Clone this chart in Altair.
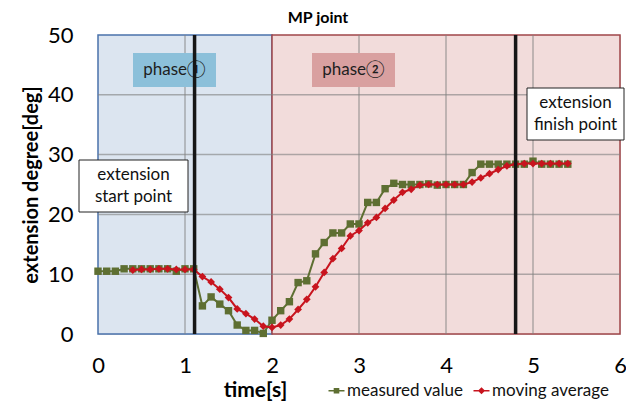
import altair as alt
import pandas as pd

# ---------------- data ----------------
time_measured = [0.0, 0.1, 0.2, 0.3, 0.4, 0.5, 0.6, 0.7, 0.8, 0.9,
                 1.0, 1.1, 1.2, 1.3, 1.4, 1.5, 1.6, 1.7, 1.8, 1.9,
                 2.0, 2.1, 2.2, 2.3, 2.4, 2.5, 2.6, 2.7, 2.8, 2.9,
                 3.0, 3.1, 3.2, 3.3, 3.4, 3.5, 3.6, 3.7, 3.8, 3.9,
                 4.0, 4.1, 4.2, 4.3, 4.4, 4.5, 4.6, 4.7, 4.8, 4.9,
                 5.0, 5.1, 5.2, 5.3, 5.4]
measured_values = [10.5, 10.5, 10.5, 10.9, 10.9, 10.9, 10.9, 10.9, 10.9, 10.5,
                   10.9, 10.9, 4.7, 6.2, 5.0, 3.9, 1.5, 0.6, 0.6, 0.1,
                   2.3, 3.9, 5.4, 8.6, 8.9, 13.4, 15.3, 16.9, 16.9, 18.4,
                   18.4, 22.0, 22.0, 24.3, 25.2, 25.0, 25.0, 25.0, 25.1, 24.9,
                   25.0, 25.0, 25.0, 27.0, 28.4, 28.4, 28.4, 28.4, 28.4, 28.4,
                   28.9, 28.4, 28.4, 28.4, 28.4]

time_average = [0.4, 0.5, 0.6, 0.7, 0.8, 0.9,
                1.0, 1.1, 1.2, 1.3, 1.4, 1.5, 1.6, 1.7, 1.8, 1.9,
                2.0, 2.1, 2.2, 2.3, 2.4, 2.5, 2.6, 2.7, 2.8, 2.9,
                3.0, 3.1, 3.2, 3.3, 3.4, 3.5, 3.6, 3.7, 3.8, 3.9,
                4.0, 4.1, 4.2, 4.3, 4.4, 4.5, 4.6, 4.7, 4.8, 4.9,
                5.0, 5.1, 5.2, 5.3, 5.4]
average_values = [10.7, 10.8, 10.8, 10.9, 10.9, 10.8,
                  10.8, 10.8, 9.6, 8.7, 7.5, 6.1, 4.2, 3.4, 2.5, 1.3,
                  1.1, 1.5, 2.5, 4.1, 5.8, 7.9, 10.3, 12.6, 14.3, 16.4,
                  17.3, 18.6, 19.5, 21.0, 22.4, 23.7, 24.2, 24.9, 25.0, 25.0,
                  25.0, 25.0, 25.0, 25.4, 26.1, 26.8, 27.5, 28.1, 28.4, 28.5,
                  28.5, 28.5, 28.5, 28.5, 28.5]

phase_names = ["phase①", "phase②"]
phase_starts = [0, 2]
phase_ends = [2, 6]
y_bottom = [0, 0]
y_top = [50, 50]

x_ticks = [0, 1, 2, 3, 4, 5, 6]
y_ticks = [0, 10, 20, 30, 40, 50]
x_grid = [1, 3, 4, 5]
y_grid = [10, 20, 30, 40]
event_times = [1.11, 4.8]
series_names = ["measured value", "moving average"]

# ---------------- style ----------------
FONT = "Lato"
GREEN = "#5e6f32"
RED = "#c8141e"
PHASE_FILL = ["#dce5f0", "#f2dcdb"]
PHASE_STROKE = ["#4a72aa", "#a0464a"]
W, H = 522, 299

meas_df = pd.DataFrame({"t": time_measured, "v": measured_values})
avg_df = pd.DataFrame({"t": time_average, "v": average_values})
phase_df = pd.DataFrame({"phase": phase_names, "t": phase_starts, "t2": phase_ends,
                         "v": y_bottom, "v2": y_top})
xgrid_df = pd.DataFrame({"t": x_grid})
ygrid_df = pd.DataFrame({"v": y_grid})
event_df = pd.DataFrame({"t": event_times})
legend_df = pd.DataFrame({"series": series_names})
one = legend_df.head(1)

xs = alt.Scale(domain=[0, 6], nice=False, zero=False)
ys = alt.Scale(domain=[0, 50], nice=False, zero=False)

x_axis = alt.Axis(values=x_ticks, title="time[s]", titleFont=FONT, titleFontSize=21,
                  titleFontWeight="bold", titleColor="#000", titleX=157, titleY=56,
                  titleBaseline="middle", titleAlign="center",
                  labelFont=FONT, labelFontSize=22, labelColor="#000", labelPadding=21,
                  labelFlush=False, labelOverlap=False,
                  ticks=False, tickSize=0, domain=False, grid=False)
y_axis = alt.Axis(values=y_ticks, title="extension degree[deg]", titleFont=FONT,
                  titleFontSize=20, titleFontWeight="bold", titleColor="#000",
                  titlePadding=6, labelFont=FONT, labelFontSize=22, labelColor="#000",
                  labelPadding=25, labelFlush=False, labelOverlap=False,
                  ticks=False, tickSize=0, domain=False, grid=False)


def X(field="t"):
    return alt.X(f"{field}:Q", scale=xs, axis=x_axis)


def Y(field="v"):
    return alt.Y(f"{field}:Q", scale=ys, axis=y_axis)


phases = alt.Chart(phase_df).mark_rect(strokeWidth=1.5).encode(
    x=X(), x2="t2:Q", y=Y(), y2="v2:Q",
    fill=alt.Fill("phase:N", scale=alt.Scale(domain=phase_names, range=PHASE_FILL), legend=None),
    stroke=alt.Stroke("phase:N", scale=alt.Scale(domain=phase_names, range=PHASE_STROKE), legend=None),
)

vgrid = alt.Chart(xgrid_df).mark_rule(color="#7f7f7f", opacity=0.6, strokeWidth=1.5).encode(x=X())
hgrid = alt.Chart(ygrid_df).mark_rule(color="#7f7f7f", opacity=0.6, strokeWidth=1.5).encode(y=Y())


def label_box(x0, x1, fill, text):
    box = alt.Chart(one).mark_rect(color=fill).encode(
        x=alt.value(x0), x2=alt.value(x1), y=alt.value(18), y2=alt.value(52))
    txt = alt.Chart(one).mark_text(font=FONT, fontSize=17, color="#1e1e1e").encode(
        x=alt.value((x0 + x1) / 2), y=alt.value(35), text=alt.value(text))
    return box + txt

p1 = label_box(35, 118, "#8cc0da", phase_names[0])
p2 = label_box(214, 297, "#d9a0a0", phase_names[1])

meas_line = alt.Chart(meas_df).mark_line(color=GREEN, strokeWidth=2).encode(x=X(), y=Y())
meas_pts = alt.Chart(meas_df).mark_point(shape="square", filled=True, color=GREEN,
                                         size=55, opacity=1).encode(x=X(), y=Y())
avg_line = alt.Chart(avg_df).mark_line(color=RED, strokeWidth=2).encode(x=X(), y=Y())
avg_pts = alt.Chart(avg_df).mark_point(shape="diamond", filled=True, color=RED,
                                       size=60, opacity=1).encode(x=X(), y=Y())

events = alt.Chart(event_df).mark_rule(color="#161616", strokeWidth=3.5).encode(
    x=X(), y=alt.value(0), y2=alt.value(H))


def callout(x0, x1, y0, y1, lines):
    box = alt.Chart(one).mark_rect(fill="white", stroke="#222", strokeWidth=1).encode(
        x=alt.value(x0), x2=alt.value(x1), y=alt.value(y0), y2=alt.value(y1))
    layers = [box]
    mid = (y0 + y1) / 2
    for i, s in enumerate(lines):
        layers.append(alt.Chart(one).mark_text(font=FONT, fontSize=17, color="#111").encode(
            x=alt.value((x0 + x1) / 2), y=alt.value(mid + (i - 0.5) * 22), text=alt.value(s)))
    return alt.layer(*layers)

start_box = callout(-19, 90, 125, 177, ["extension", "start point"])
finish_box = callout(429, 526, 53, 105, ["extension", "finish point"])

title = alt.Chart(one).mark_text(font=FONT, fontSize=16, fontWeight="bold",
                                 color="#000").encode(
    x=alt.value(220), y=alt.value(-17), text=alt.value("MP joint"))

SQ = "M-1,-0.1L1,-0.1L1,0.1L-1,0.1Z M-0.35,-0.35L0.35,-0.35L0.35,0.35L-0.35,0.35Z"
DI = "M-1,-0.1L1,-0.1L1,0.1L-1,0.1Z M0,-0.45L0.45,0L0,0.45L-0.45,0Z"
leg = alt.Legend(title=None, orient="none", legendX=230, legendY=347, padding=0,
                 direction="horizontal", labelFont=FONT, labelFontSize=17,
                 labelColor="#111", symbolSize=256, symbolStrokeWidth=0,
                 columnPadding=9, labelOffset=2)
legend = alt.Chart(legend_df).transform_filter("false").mark_point(filled=True, opacity=1).encode(
    color=alt.Color("series:N", scale=alt.Scale(domain=series_names, range=[GREEN, RED]), legend=leg),
    shape=alt.Shape("series:N", scale=alt.Scale(domain=series_names, range=[SQ, DI]), legend=leg),
)

chart = alt.layer(
    phases, vgrid, hgrid, p1, p2, meas_line, meas_pts, avg_line, avg_pts, events,
    start_box, finish_box, title, legend
).properties(
    width=W, height=H,
    autosize=alt.AutoSizeParams(type="none"),
    padding={"left": 90, "top": 27, "right": 6, "bottom": 67},
).configure_view(strokeWidth=0).configure(background="white")

chart.save("out.html", embed_options={"renderer": "svg", "actions": False})
